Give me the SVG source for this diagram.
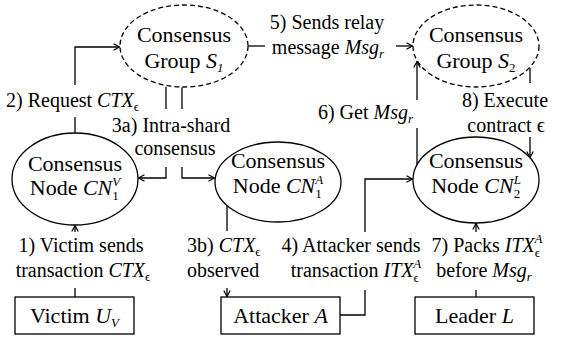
<svg xmlns="http://www.w3.org/2000/svg" width="564" height="339" viewBox="0 0 564 339" font-family="'Liberation Serif', 'DejaVu Serif', serif">
<defs>
<style>
text{fill:#000}
.n{font-size:22px;text-anchor:middle}
.l{font-size:20px}
.c{text-anchor:middle}
.i{font-style:italic}
.s{font-size:13px}
.shape{fill:#fff;stroke:#000;stroke-width:1.3}
.dash{stroke-dasharray:5 3}
.w{fill:none;stroke:#000;stroke-width:1.3}
</style>
<marker id="ah" viewBox="-8 -5 10 10" refX="0" refY="0" markerWidth="10" markerHeight="10" markerUnits="userSpaceOnUse" orient="auto">
<path d="M-6,-3.2 L0,0 L-6,3.2" fill="none" stroke="#000" stroke-width="1.2"/>
</marker>
</defs>
<rect width="564" height="339" fill="#fff"/>

<g id="connectors">
<line class="w" x1="75" y1="297" x2="75" y2="288"/>
<line class="w" x1="75" y1="232" x2="75" y2="225.5" marker-end="url(#ah)"/>
<line class="w" x1="75" y1="133" x2="75" y2="117"/>
<path class="w" d="M75,85 V47 H119.5" marker-end="url(#ah)"/>
<line class="w" x1="166" y1="87" x2="166" y2="109"/>
<path class="w" d="M166,167 V178 H138.5" marker-end="url(#ah)"/>
<line class="w" x1="182" y1="87.5" x2="182" y2="109"/>
<path class="w" d="M182,167 V178 H214.5" marker-end="url(#ah)"/>
<line class="w" x1="227" y1="201" x2="227" y2="231"/>
<line class="w" x1="227" y1="288" x2="227" y2="296.5" marker-end="url(#ah)"/>
<path class="w" d="M340,315 H365 V290"/>
<path class="w" d="M365,232 V179 H412.5" marker-end="url(#ah)"/>
<line class="w" x1="248" y1="46" x2="265" y2="46"/>
<line class="w" x1="396" y1="46" x2="412.5" y2="46" marker-end="url(#ah)"/>
<line class="w" x1="417" y1="165" x2="417" y2="128"/>
<line class="w" x1="417" y1="100" x2="417" y2="61.5" marker-end="url(#ah)"/>
<line class="w" x1="476" y1="297" x2="476" y2="290"/>
<line class="w" x1="476" y1="232" x2="476" y2="223.5" marker-end="url(#ah)"/>
<line class="w" x1="530" y1="68" x2="530" y2="83"/>
<line class="w" x1="530" y1="137" x2="530" y2="157.5" marker-end="url(#ah)"/>
</g>

<g id="S1">
<ellipse class="shape dash" cx="184" cy="46" rx="64" ry="41"/>
<text class="n" x="184" y="42">Consensus</text>
<text class="n" x="184" y="68">Group <tspan class="i">S</tspan><tspan class="s i" dy="4">1</tspan></text>
</g>
<g id="S2">
<ellipse class="shape dash" cx="476" cy="46" rx="63" ry="41"/>
<text class="n" x="476" y="42">Consensus</text>
<text class="n" x="476" y="68">Group <tspan class="i">S</tspan><tspan class="s" dy="4">2</tspan></text>
</g>
<g id="CN1V">
<ellipse class="shape" cx="75" cy="179" rx="63" ry="46"/>
<text class="n" x="75" y="171">Consensus</text>
<text class="n" x="75" y="195">Node <tspan class="i">CN</tspan><tspan class="s" dy="5">1</tspan><tspan class="s i" dx="-6.5" dy="-14">V</tspan></text>
</g>
<g id="CN1A">
<ellipse class="shape" cx="278" cy="182" rx="63" ry="40"/>
<text class="n" x="278" y="168">Consensus</text>
<text class="n" x="278" y="193">Node <tspan class="i">CN</tspan><tspan class="s" dy="5">1</tspan><tspan class="s i" dx="-6.5" dy="-14">A</tspan></text>
</g>
<g id="CN2L">
<ellipse class="shape" cx="476" cy="180" rx="63" ry="43"/>
<text class="n" x="476" y="168">Consensus</text>
<text class="n" x="476" y="193">Node <tspan class="i">CN</tspan><tspan class="s" dy="5">2</tspan><tspan class="s i" dx="-6.5" dy="-14">L</tspan></text>
</g>
<g id="Victim">
<rect class="shape" x="15" y="297" width="119" height="37"/>
<text class="n" x="74.5" y="323">Victim <tspan class="i">U</tspan><tspan class="s i" dy="4">V</tspan></text>
</g>
<g id="Attacker">
<rect class="shape" x="221" y="297" width="119" height="37"/>
<text class="n" x="280.5" y="323">Attacker <tspan class="i">A</tspan></text>
</g>
<g id="Leader">
<rect class="shape" x="415" y="297" width="119" height="37"/>
<text class="n" x="474.5" y="323">Leader <tspan class="i">L</tspan></text>
</g>

<g id="labels">
<text class="l c" x="81" y="252">1) Victim sends</text>
<text class="l c" x="83" y="277">transaction <tspan class="i">CTX</tspan><tspan class="s" dy="4">ϵ</tspan></text>
<text class="l" x="6" y="107">2) Request <tspan class="i">CTX</tspan><tspan class="s" dy="4">ϵ</tspan></text>
<text class="l c" x="171" y="132">3a) Intra-shard</text>
<text class="l c" x="175" y="155">consensus</text>
<text class="l" x="187" y="252">3b) <tspan class="i">CTX</tspan><tspan class="s" dy="4">ϵ</tspan></text>
<text class="l" x="187" y="277">observed</text>
<text class="l c" x="351" y="252">4) Attacker sends</text>
<text class="l c" x="356" y="277">transaction <tspan class="i">ITX</tspan><tspan class="s" dy="5">ϵ</tspan><tspan class="s i" dx="-5.5" dy="-14">A</tspan></text>
<text class="l c" x="327" y="29">5) Sends relay</text>
<text class="l c" x="328" y="54">message <tspan class="i">Msg</tspan><tspan class="s i" dy="4">r</tspan></text>
<text class="l" x="413" y="119" text-anchor="end">6) Get <tspan class="i">Msg</tspan><tspan class="s i" dy="4">r</tspan></text>
<text class="l c" x="487" y="252">7) Packs <tspan class="i">ITX</tspan><tspan class="s" dy="5">ϵ</tspan><tspan class="s i" dx="-5.5" dy="-14">A</tspan></text>
<text class="l c" x="484" y="277">before <tspan class="i">Msg</tspan><tspan class="s i" dy="4">r</tspan></text>
<text class="l c" x="505" y="107">8) Execute</text>
<text class="l c" x="506" y="132">contract ϵ</text>
</g>
</svg>
